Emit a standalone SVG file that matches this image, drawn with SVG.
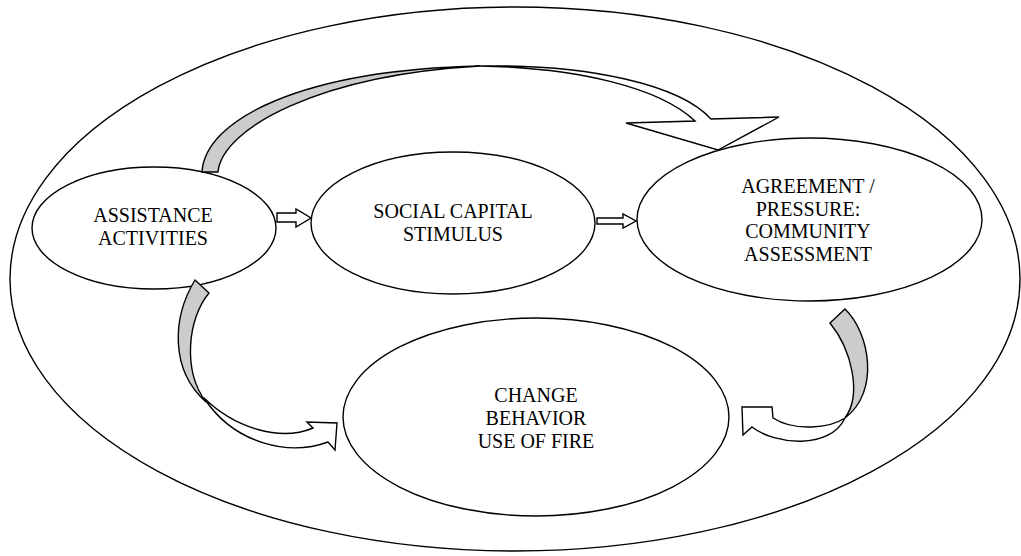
<svg xmlns="http://www.w3.org/2000/svg" width="1021" height="556" viewBox="0 0 1021 556">
<style>
.node{fill:none;stroke:#000;stroke-width:1.4}
.lbl{font-family:"Liberation Serif",serif;font-size:20px;fill:#000;text-anchor:middle}
.gray{fill:#cccccc;stroke:#000;stroke-width:1.4;stroke-linejoin:miter}
.white{fill:#fff;stroke:#000;stroke-width:1.4;stroke-linejoin:miter}
</style>
<rect width="1021" height="556" fill="#fff"/>
<g id="outer"><ellipse cx="515" cy="279" rx="505" ry="272" class="node" stroke-width="1.2"/></g>
<g id="assistance">
<ellipse cx="154" cy="228" rx="122" ry="61" class="node"/>
<text class="lbl" font-family="Liberation Serif" x="153" y="222">ASSISTANCE</text>
<text class="lbl" font-family="Liberation Serif" x="153" y="245">ACTIVITIES</text>
</g>
<g id="social">
<ellipse cx="453" cy="223" rx="142" ry="71" class="node"/>
<text class="lbl" font-family="Liberation Serif" x="453" y="218">SOCIAL CAPITAL</text>
<text class="lbl" font-family="Liberation Serif" x="453" y="241">STIMULUS</text>
</g>
<g id="agreement">
<ellipse cx="809.5" cy="219.5" rx="172.5" ry="81.5" class="node"/>
<text class="lbl" font-family="Liberation Serif" x="808" y="193">AGREEMENT /</text>
<text class="lbl" font-family="Liberation Serif" x="808" y="215.5">PRESSURE:</text>
<text class="lbl" font-family="Liberation Serif" x="808" y="238">COMMUNITY</text>
<text class="lbl" font-family="Liberation Serif" x="808" y="260.5">ASSESSMENT</text>
</g>
<g id="change">
<ellipse cx="536" cy="417" rx="193" ry="99" class="node"/>
<text class="lbl" font-family="Liberation Serif" x="536" y="402">CHANGE</text>
<text class="lbl" font-family="Liberation Serif" x="536" y="425">BEHAVIOR</text>
<text class="lbl" font-family="Liberation Serif" x="536" y="448">USE OF FIRE</text>
</g>
<g id="connectors">
<polygon class="white" points="277,213 296,213 296,209 311,218 296,227 296,222 277,222"/>
<polygon class="white" points="597,218 623,218 623,214 636,221 623,228 623,224 597,224"/>
<path class="gray" d="M202,172 C205,120 300,70 480,66 C320,75 222,128 218,172 Z"/>
<path class="white" d="M480,66 C590,64 680,85 711,119 L779,117 L718,150 L626,123 L695,121 C660,88 580,68 480,66 Z"/>
<path class="gray" d="M195,280 L209,293 C188,318 182,370 206,402 C170,370 172,318 195,280 Z"/>
<path class="white" d="M204,398 C235,428 280,442 313,428 L307,422 L337,423 L335,450 L328,442 C290,456 235,445 204,398 Z"/>
<path class="gray" d="M830,323 L845,309 C870,333 880,392 845,418 C862,395 852,350 830,323 Z"/>
<path class="white" d="M845,418 C830,428 795,432 773,418 L772,407 L742,407 L743,435 L752,427 C775,445 830,450 845,418 Z"/>
</g>
</svg>
